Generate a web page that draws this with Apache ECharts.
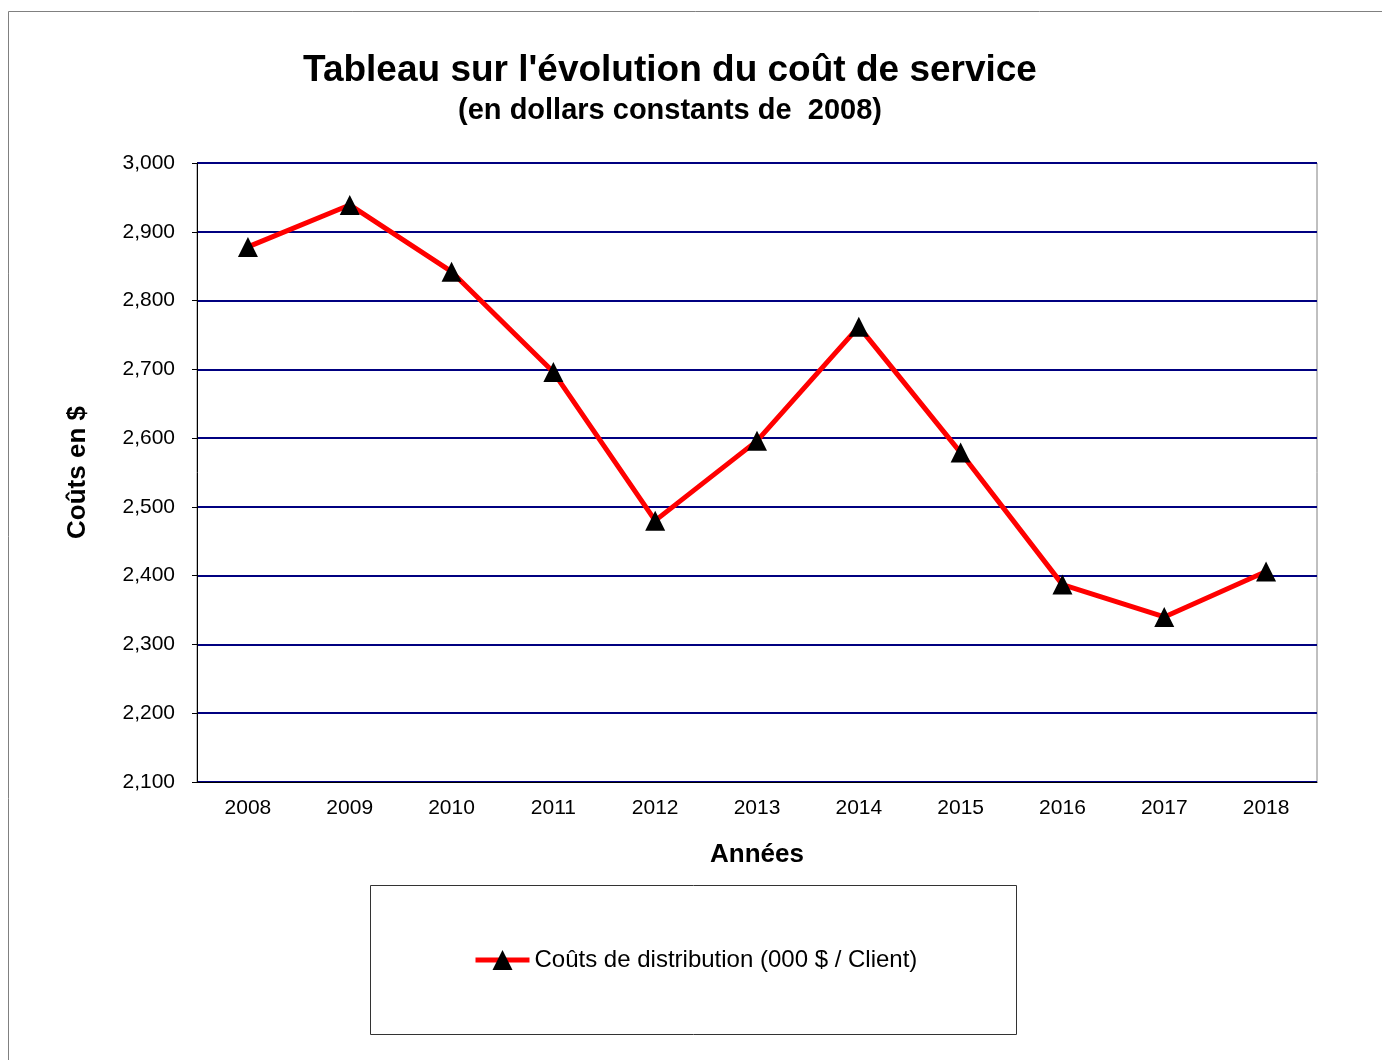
<!DOCTYPE html>
<html>
<head>
<meta charset="utf-8">
<script src="https://cdn.jsdelivr.net/npm/echarts@6/dist/echarts.min.js"></script>
<style>
html,body{margin:0;padding:0;background:#fff;}
#chart{width:1382px;height:1060px;}
</style>
</head>
<body>
<div id="chart"></div>
<script>
// données
var annees = ['2008','2009','2010','2011','2012','2013','2014','2015','2016','2017','2018'];
var couts = [2878, 2939, 2842, 2696, 2480, 2596, 2762, 2579, 2387, 2340, 2406];
var nomSerie = 'Coûts de distribution (000 $ / Client)';

var myChart = echarts.init(document.getElementById('chart'));

var option = {
	backgroundColor: '#fff',
	animation: false,
	textStyle: { fontFamily: 'Liberation Sans, Arial, sans-serif' },
	title: [{
		text: "Tableau sur l'évolution du coût de service",
		left: 665, top: 47, textAlign: 'center',
		textStyle: { fontSize: 37, fontWeight: 'bold', color: '#000' }
	},{
		text: '(en dollars constants de  2008)',
		left: 665, top: 91, textAlign: 'center',
		textStyle: { fontSize: 29, fontWeight: 'bold', color: '#000' }
	}],
	grid: {
		left: 197, right: 65, top: 163, bottom: 278,
		show: true, borderColor: '#808080', borderWidth: 1
	},
	legend: {
		data: [nomSerie],
		left: 468, top: 943,
		itemWidth: 54, itemHeight: 25, itemGap: 4,
		lineStyle: { width: 5, color: '#ff0000' },
		textStyle: { fontSize: 24, color: '#000' }
	},
	xAxis: {
		type: 'category',
		data: annees,
		name: 'Années',
		nameLocation: 'middle',
		nameGap: 60,
		nameTextStyle: { fontSize: 26, fontWeight: 'bold', color: '#000' },
		axisLine: { lineStyle: { color: '#000', width: 1 } },
		axisTick: { length: 5, lineStyle: { color: '#000' } },
		axisLabel: { fontSize: 21, color: '#000', margin: 16 }
	},
	yAxis: {
		type: 'value',
		min: 2100, max: 3000, interval: 100,
		name: 'Coûts en $',
		nameLocation: 'middle',
		nameGap: 106,
		nameTextStyle: { fontSize: 26, fontWeight: 'bold', color: '#000' },
		axisLine: { show: true, lineStyle: { color: '#000', width: 1 } },
		axisTick: { show: true, length: 5, lineStyle: { color: '#000' } },
		axisLabel: {
			fontSize: 21, color: '#000', margin: 22,
			formatter: function (v) { return v.toLocaleString('en-US'); }
		},
		splitLine: { lineStyle: { color: '#000080', width: 2 } }
	},
	graphic: [{
		type: 'rect',
		shape: { x: 8.5, y: 11.5, width: 1400, height: 1100 },
		style: { fill: null, stroke: '#808080', lineWidth: 1 },
		silent: true
	},{
		type: 'rect',
		shape: { x: 370.5, y: 885.5, width: 646, height: 149 },
		style: { fill: null, stroke: '#333', lineWidth: 1 },
		silent: true
	}],
	series: [{
		name: nomSerie,
		type: 'line',
		data: couts,
		symbol: 'triangle',
		symbolSize: 20,
		itemStyle: { color: '#000' },
		lineStyle: { color: '#ff0000', width: 5 },
		z: 3
	}]
};
myChart.setOption(option);
</script>
</body>
</html>
